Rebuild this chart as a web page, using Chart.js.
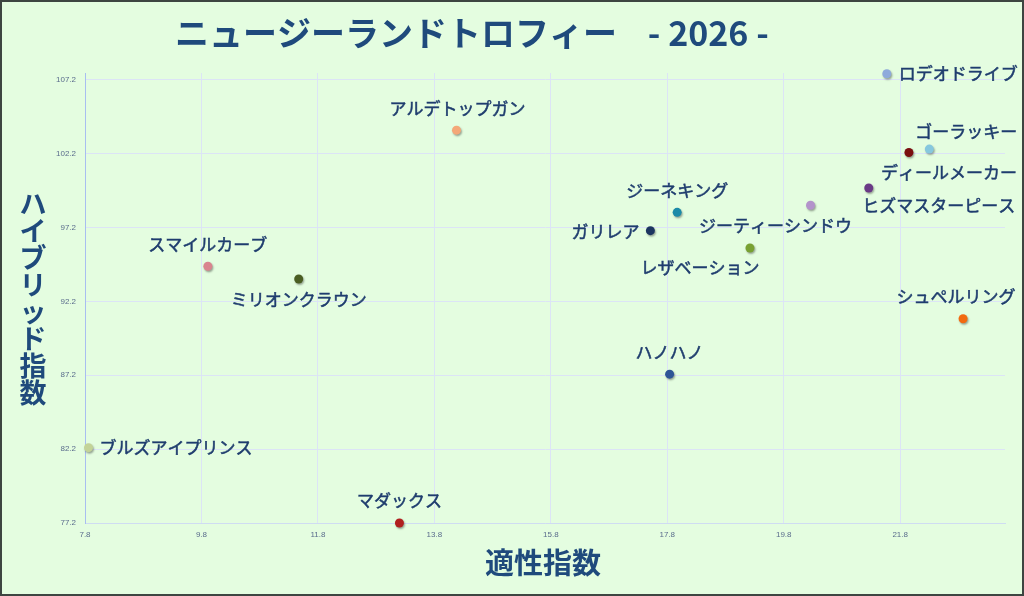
<!DOCTYPE html>
<html>
<head>
<meta charset="utf-8">
<script src="https://cdn.jsdelivr.net/npm/chart.js@4"></script>
<style>
  html, body { margin: 0; padding: 0; background: #e4fde0; }
  #wrap { width: 1024px; height: 596px; }
</style>
</head>
<body>
<div id="wrap"><canvas id="myChart"></canvas></div>
<script>
// ニュージーランドトロフィー 2026 散布図

var names = ['ロデオドライブ', 'ゴーラッキー', 'ディールメーカー', 'ヒズマスターピース', 'ジーティーシンドウ',
  'ジーネキング', 'ガリレア', 'レザベーション', 'シュペルリング', 'ハノハノ',
  'マダックス', 'ブルズアイプリンス', 'スマイルカーブ', 'ミリオンクラウン', 'アルデトップガン']
var tekisei = [21.57, 22.3, 21.95, 21.26, 20.26, 17.97, 17.51, 19.22, 22.88, 17.84, 13.2, 7.86, 9.91, 11.47, 14.18]
var hybrid = [107.6, 102.5, 102.27, 99.87, 98.7, 98.22, 96.98, 95.81, 91.02, 87.27, 77.2, 82.3, 94.57, 93.71, 103.78]
var xTicks = [7.8, 9.8, 11.8, 13.8, 15.8, 17.8, 19.8, 21.8]
var yTicks = [77.2, 82.2, 87.2, 92.2, 97.2, 102.2, 107.2]

var colors = ['#8eaadb', '#86c8de', '#7a0e10', '#6a3a86', '#b393cb',
  '#1b8aa8', '#1c3560', '#78a132', '#f26a10', '#2f5597',
  '#b01f1f', '#c3d398', '#d9848e', '#4a5e22', '#f4a878']

// ラベルの置き方 [揃え, dx, dy]
var labelPlace = [
  ['left', 12, 0], ['center', 37, -18], ['center', 40, 20], ['center', 70, 18], ['center', -35, 20],
  ['center', 0, -22], ['right', -11, 1], ['center', -50, 20], ['center', -7, -22], ['center', 0, -22],
  ['center', 0, -22], ['left', 11, 0], ['center', 0, -22], ['center', 0, 21], ['center', 1, -22]
]

var titleColor = '#1f4a7c'
var ctx = document.getElementById('myChart')

var pts = []
for (var i = 0; i < names.length; i++) {
  pts.push({ x: tekisei[i], y: hybrid[i] })
}

const bgPlugin = {
  id: 'bg',
  beforeDraw(chart) {
    const c = chart.ctx
    c.save()
    c.fillStyle = '#e4fde0'
    c.fillRect(0, 0, chart.width, chart.height)
    c.restore()
  },
  afterDraw(chart) {
    const c = chart.ctx
    c.save()
    c.strokeStyle = '#3d4541'
    c.lineWidth = 2
    c.strokeRect(1, 1, chart.width - 2, chart.height - 2)

    c.fillStyle = titleColor
    c.textBaseline = 'middle'
    c.font = 'bold 34px "Noto Sans CJK JP"'
    c.textAlign = 'left'
    c.fillText('ニュージーランドトロフィー    - 2026 -', 175, 33)

    c.textAlign = 'center'
    c.font = 'bold 29px "Noto Sans CJK JP"'
    c.fillText('適性指数', 543, 563)

    // 縦書きの軸タイトル
    var yt = 'ハイブリッド指数'
    c.font = 'bold 27px "Noto Sans CJK JP"'
    for (var k = 0; k < yt.length; k++) {
      c.fillText(yt[k], 33, 204 + k * 27)
    }
    c.restore()
  }
}

const shadowPlugin = {
  id: 'shadow',
  beforeDatasetsDraw(chart) {
    const c = chart.ctx
    c.save()
    c.shadowColor = 'rgba(0,0,0,0.35)'
    c.shadowBlur = 2
    c.shadowOffsetX = 1
    c.shadowOffsetY = 1.5
  },
  afterDatasetsDraw(chart) {
    chart.ctx.restore()
    const c = chart.ctx
    const meta = chart.getDatasetMeta(0)
    c.save()
    c.fillStyle = '#1f3d6e'
    c.strokeStyle = '#1f3d6e'
    c.lineWidth = 0.5
    c.font = '17px "Noto Sans CJK JP"'
    c.textBaseline = 'middle'
    meta.data.forEach((p, i) => {
      var lp = labelPlace[i]
      c.textAlign = lp[0]
      c.fillText(names[i], p.x + lp[1], p.y + lp[2])
      c.strokeText(names[i], p.x + lp[1], p.y + lp[2])
    })
    c.restore()
  }
}

new Chart(ctx, {
  type: 'scatter',
  data: {
    datasets: [{
      label: 'ニュージーランドトロフィー',
      data: pts,
      backgroundColor: colors,
      borderWidth: 0,
      pointRadius: 4.5,
      pointHoverRadius: 4.5,
      clip: false
    }]
  },
  options: {
    responsive: true,
    maintainAspectRatio: false,
    animation: false,
    layout: { padding: { left: 0, right: 19, top: 73, bottom: 0 } },
    plugins: {
      legend: { display: false },
      tooltip: { enabled: false }
    },
    scales: {
      x: {
        min: 7.8,
        max: 23.6,
        afterBuildTicks: (scale) => { scale.ticks = xTicks.map(v => ({ value: v })) },
        afterFit: (scale) => { scale.height = 73 },
        grid: { color: '#dce4f6', drawTicks: false },
        border: { color: '#cfdcf2' },
        ticks: {
          padding: 7,
          color: '#5a6c8c',
          font: { size: 8, family: 'Liberation Sans' },
          callback: (v) => v.toFixed(1)
        }
      },
      y: {
        min: 77.2,
        max: 107.65,
        afterBuildTicks: (scale) => { scale.ticks = yTicks.map(v => ({ value: v })) },
        afterFit: (scale) => { scale.width = 85 },
        grid: { color: '#dce4f6', drawTicks: false },
        border: { color: '#a8bef0' },
        ticks: {
          padding: 9,
          color: '#5a6c8c',
          font: { size: 8, family: 'Liberation Sans' },
          callback: (v) => v.toFixed(1)
        }
      }
    }
  },
  plugins: [bgPlugin, shadowPlugin]
})
</script>
</body>
</html>
